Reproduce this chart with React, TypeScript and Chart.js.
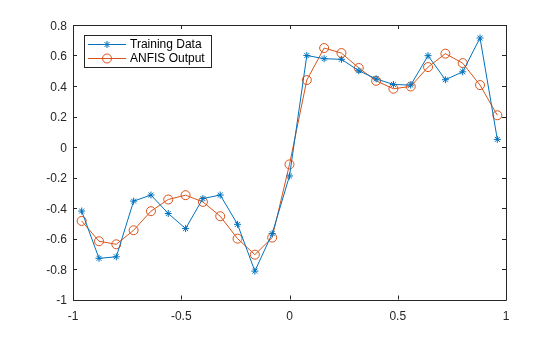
import React, { useEffect, useRef } from "react";
import { Chart, registerables } from "chart.js";

Chart.register(...registerables);

const xValues = [
  -0.96, -0.88, -0.8, -0.72, -0.64, -0.56, -0.48, -0.4, -0.32, -0.24, -0.16, -0.08, 0,
  0.08, 0.16, 0.24, 0.32, 0.4, 0.48, 0.56, 0.64, 0.72, 0.8, 0.88, 0.96,
];
const trainingData = [
  -0.42, -0.73, -0.72, -0.355, -0.315, -0.436, -0.535, -0.338, -0.315, -0.507, -0.814, -0.568, -0.19,
  0.6, 0.579, 0.575, 0.5, 0.447, 0.41, 0.406, 0.599, 0.441, 0.493, 0.715, 0.05,
];
const anfisOutput = [
  -0.485, -0.618, -0.638, -0.546, -0.421, -0.344, -0.316, -0.36, -0.454, -0.601, -0.706, -0.594, -0.114,
  0.439, 0.649, 0.616, 0.518, 0.434, 0.382, 0.397, 0.524, 0.612, 0.55, 0.406, 0.208,
];
const seriesNames = ["Training Data", "ANFIS Output"];
const xTicks = [-1, -0.5, 0, 0.5, 1];
const yTicks = [-1, -0.8, -0.6, -0.4, -0.2, 0, 0.2, 0.4, 0.6, 0.8];

const BLUE = "#0072BD";
const ORANGE = "#D95319";
const AXIS = "#262626";
const FONT = "'Liberation Sans', Arial, sans-serif";

const framePlugin = {
  id: "matlabFrame",
  afterDraw(chart: any) {
    const { ctx, chartArea } = chart;
    const { left, right, top, bottom } = chartArea;
    const xs = chart.scales.x;
    const ys = chart.scales.y;
    ctx.save();
    ctx.strokeStyle = AXIS;
    ctx.lineWidth = 1;
    ctx.beginPath();
    ctx.rect(Math.round(left) + 0.5, Math.round(top) + 0.5, Math.round(right - left), Math.round(bottom - top));
    ctx.stroke();
    const tl = 4;
    ctx.beginPath();
    for (const v of xTicks) {
      const px = Math.round(xs.getPixelForValue(v)) + 0.5;
      ctx.moveTo(px, bottom);
      ctx.lineTo(px, bottom - tl);
      ctx.moveTo(px, top);
      ctx.lineTo(px, top + tl);
    }
    for (const v of yTicks) {
      const py = Math.round(ys.getPixelForValue(v)) + 0.5;
      ctx.moveTo(left, py);
      ctx.lineTo(left + tl, py);
      ctx.moveTo(right, py);
      ctx.lineTo(right - tl, py);
    }
    ctx.stroke();

    // legend
    const bx = 84.5, by = 35.5, bw = 127, bh = 32;
    ctx.fillStyle = "#ffffff";
    ctx.fillRect(bx, by, bw, bh);
    ctx.strokeStyle = AXIS;
    ctx.strokeRect(bx, by, bw, bh);
    const rows = [
      { y: 44.5, color: BLUE, marker: "star", name: seriesNames[0] },
      { y: 58.5, color: ORANGE, marker: "circle", name: seriesNames[1] },
    ];
    ctx.font = `12px ${FONT}`;
    ctx.textBaseline = "middle";
    ctx.textAlign = "left";
    for (const r of rows) {
      ctx.strokeStyle = r.color;
      ctx.lineWidth = 1;
      ctx.beginPath();
      ctx.moveTo(88, r.y);
      ctx.lineTo(126, r.y);
      ctx.stroke();
      const cx = 107;
      ctx.beginPath();
      if (r.marker === "star") {
        const s = 3.5;
        ctx.moveTo(cx - s, r.y);
        ctx.lineTo(cx + s, r.y);
        ctx.moveTo(cx, r.y - s);
        ctx.lineTo(cx, r.y + s);
        const d = s * 0.7071;
        ctx.moveTo(cx - d, r.y - d);
        ctx.lineTo(cx + d, r.y + d);
        ctx.moveTo(cx - d, r.y + d);
        ctx.lineTo(cx + d, r.y - d);
      } else {
        ctx.arc(cx, r.y, 4.5, 0, Math.PI * 2);
      }
      ctx.stroke();
      ctx.fillStyle = "#000000";
      ctx.fillText(r.name, 130, r.y + 0.5);
    }
    ctx.restore();
  },
};

export default function App() {
  const ref = useRef<HTMLCanvasElement | null>(null);
  useEffect(() => {
    if (!ref.current) return;
    const chart = new Chart(ref.current, {
      type: "scatter",
      data: {
        datasets: [
          {
            label: seriesNames[0],
            data: xValues.map((x, i) => ({ x, y: trainingData[i] })),
            showLine: true,
            borderColor: BLUE,
            backgroundColor: BLUE,
            borderWidth: 1,
            pointStyle: "star",
            pointRadius: 3.5,
            pointBorderWidth: 1,
            pointBorderColor: BLUE,
            pointBackgroundColor: "rgba(0,0,0,0)",
          },
          {
            label: seriesNames[1],
            data: xValues.map((x, i) => ({ x, y: anfisOutput[i] })),
            showLine: true,
            borderColor: ORANGE,
            backgroundColor: "rgba(0,0,0,0)",
            borderWidth: 1,
            pointStyle: "circle",
            pointRadius: 4.5,
            pointBorderWidth: 1,
            pointBorderColor: ORANGE,
            pointBackgroundColor: "rgba(0,0,0,0)",
          },
        ],
      },
      options: {
        responsive: false,
        animation: false,
        layout: { padding: { left: 0, top: 25, right: 54, bottom: 0 } },
        plugins: { legend: { display: false }, tooltip: { enabled: false } },
        scales: {
          x: {
            type: "linear",
            min: -1,
            max: 1,
            grid: { display: false, drawTicks: false },
            border: { display: false },
            afterFit: (s: any) => {
              s.height = 37.5;
            },
            afterBuildTicks: (s: any) => {
              s.ticks = xTicks.map((v) => ({ value: v }));
            },
            ticks: {
              color: AXIS,
              padding: 10,
              maxRotation: 0,
              font: { family: FONT, size: 12 },
              callback: (v: any) => String(v),
            },
          },
          y: {
            type: "linear",
            min: -1,
            max: 0.8,
            grid: { display: false, drawTicks: false },
            border: { display: false },
            afterFit: (s: any) => {
              s.width = 73;
            },
            afterBuildTicks: (s: any) => {
              s.ticks = yTicks.map((v) => ({ value: v }));
            },
            ticks: {
              color: AXIS,
              padding: 6,
              labelOffset: 1.5,
              font: { family: FONT, size: 12 },
              callback: (v: any) => String(Math.round(v * 10) / 10),
            },
          },
        },
      },
      plugins: [framePlugin],
    });
    return () => chart.destroy();
  }, []);
  return (
    <div style={{ position: "fixed", left: 0, top: 0, width: 560, height: 337, background: "#fff" }}>
      <canvas ref={ref} width={560} height={337} style={{ width: 560, height: 337 }} />
    </div>
  );
}
